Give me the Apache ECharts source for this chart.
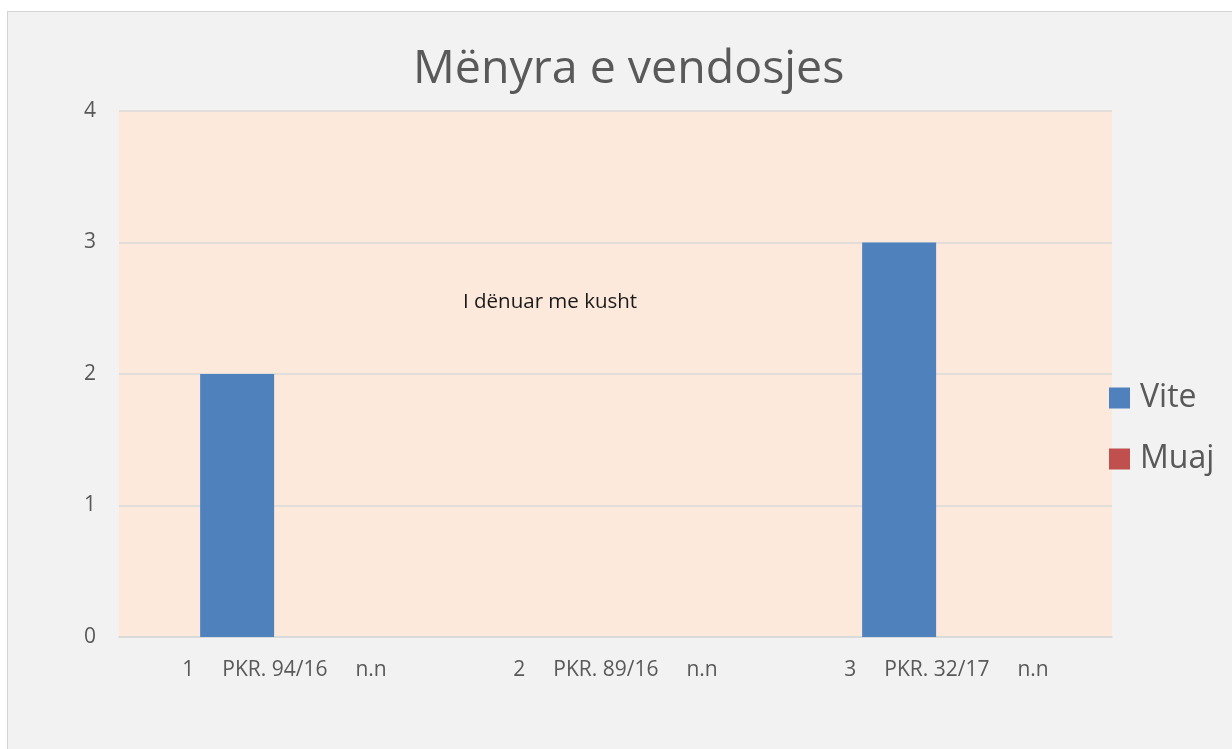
<!DOCTYPE html>
<html>
<head>
<meta charset="utf-8">
<script src="https://cdn.jsdelivr.net/npm/echarts@6/dist/echarts.min.js"></script>
<style>
html,body{margin:0;padding:0;background:#ffffff;width:1232px;height:749px;overflow:hidden;}
#chart{position:absolute;left:7px;top:11px;width:1225px;height:738px;border-left:1px solid #d4d4d4;border-top:1px solid #d4d4d4;background:#f2f2f2;}
</style>
</head>
<body>
<div id="chart"></div>
<script>
const titleText = "Mënyra e vendosjes";
const annotationText = "I dënuar me kusht";
const catNumbers = ["1", "2", "3"];
const catCases = ["PKR. 94/16", "PKR. 89/16", "PKR. 32/17"];
const catNames = ["n.n", "n.n", "n.n"];
const seriesNames = ["Vite", "Muaj"];
const viteValues = [2, 0, 3];
const muajValues = [0, 0, 0];
const yTicks = [0, 1, 2, 3, 4];

const categories = catNumbers.map((n, i) => n + "|" + catCases[i] + "|" + catNames[i]);

const chart = echarts.init(document.getElementById('chart'), null, {renderer: 'canvas'});
const font = "'Open Sans', 'Noto Sans', sans-serif";
chart.setOption({
  backgroundColor: '#f2f2f2',
  animation: false,
  textStyle: {fontFamily: font},
  title: {
    text: titleText,
    left: 400,
    top: 29,
    textStyle: {fontFamily: font, fontSize: 46.5, fontWeight: 'normal', color: '#595959'}
  },
  legend: {
    orient: 'vertical',
    left: 1096,
    top: 364,
    itemWidth: 21,
    itemHeight: 21,
    itemGap: 27,
    icon: 'rect',
    data: seriesNames,
    textStyle: {fontFamily: font, fontSize: 32, color: '#595959', lineHeight: 34, padding: [0, 0, 0, 5]}
  },
  grid: {left: 111, top: 99, width: 993, height: 526, show: true, backgroundColor: '#fde9db', borderWidth: 0},
  xAxis: {
    type: 'category',
    data: categories,
    axisLine: {lineStyle: {color: '#d9d9d9', width: 1.5}},
    axisTick: {show: false},
    axisLabel: {
      margin: 23,
      formatter: function (v) {
        const p = v.split('|');
        return '{a|' + p[0] + '}{b|' + p[1] + '}{c|' + p[2] + '}';
      },
      rich: {
        a: {fontFamily: font, fontSize: 21, color: '#595959', padding: [0, 28, 0, 0]},
        b: {fontFamily: font, fontSize: 21, color: '#595959'},
        c: {fontFamily: font, fontSize: 21, color: '#595959', padding: [0, 0, 0, 28]}
      }
    }
  },
  yAxis: {
    type: 'value',
    min: 0,
    max: 4,
    interval: 1,
    axisLine: {show: false},
    axisTick: {show: false},
    splitLine: {lineStyle: {color: '#d9d9d9', width: 1.5}},
    axisLabel: {
      margin: 23,
      fontFamily: font, fontSize: 21, color: '#595959',
      formatter: function (v) { return yTicks.indexOf(v) >= 0 ? String(v) : ''; }
    }
  },
  series: [
    {name: seriesNames[0], type: 'bar', data: viteValues, barWidth: 74, barGap: '28%', itemStyle: {color: '#4f81bd'}},
    {name: seriesNames[1], type: 'bar', data: muajValues, barWidth: 74, itemStyle: {color: '#c0504d'}}
  ],
  graphic: [{
    type: 'text',
    left: 455,
    top: 280,
    style: {text: annotationText, font: "20.5px 'Open Sans', 'Noto Sans', sans-serif", fill: '#1a1a1a'}
  }]
});
</script>
</body>
</html>
